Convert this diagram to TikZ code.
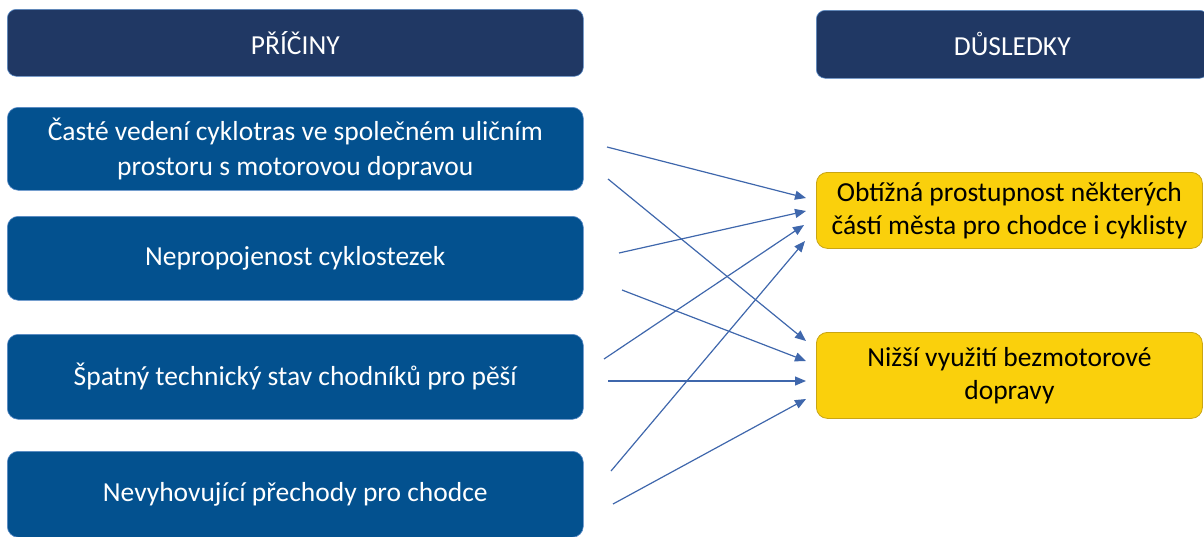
\documentclass[tikz,border=0pt]{standalone}
\usepackage{fontspec}
\setmainfont{Carlito}
\usetikzlibrary{arrows.meta}
\definecolor{navy}{HTML}{203864}
\definecolor{causeblue}{HTML}{03518F}
\definecolor{edgeblue}{HTML}{5B8CC8}
\definecolor{effyellow}{HTML}{FAD00C}
\definecolor{effedge}{HTML}{C9A514}
\definecolor{arrowblue}{HTML}{3F67AC}
\tikzset{
  header/.style={draw=edgeblue, line width=0.6pt, fill=navy, rounded corners=9pt, text=white,
    font=\fontsize{27.5}{33}\selectfont, anchor=north west, inner sep=0pt},
  cause/.style={draw=edgeblue, line width=0.6pt, fill=causeblue, rounded corners=11pt, text=white,
    font=\fontsize{27.5}{35}\selectfont, align=center, anchor=north west, inner sep=0pt,
    minimum width=576pt},
  effect/.style={draw=effedge, line width=0.8pt, fill=effyellow, rounded corners=11pt, text=black,
    font=\fontsize{27.5}{33}\selectfont, align=center, anchor=north west, inner sep=0pt,
    minimum width=386pt},
  link/.style={draw=arrowblue, line width=1.2pt, -{Triangle[length=11pt,width=9pt]}}
}
\begin{document}
\begin{tikzpicture}[x=1pt,y=-1pt]
\useasboundingbox (0,0) rectangle (1204,536);
% headers
\node[header, minimum width=576pt, minimum height=67pt] (hc) at (7,9) {PŘÍČINY};
\node[header, minimum width=392pt, minimum height=68pt] (he) at (816,10) {DŮSLEDKY};
% causes
\node[cause, minimum height=83pt] (c1) at (7,107) {Časté vedení cyklotras ve společném uličním\\prostoru s motorovou dopravou};
\node[cause, minimum height=84pt] (c2) at (7,216) {Nepropojenost cyklostezek};
\node[cause, minimum height=85pt] (c3) at (7,334) {Špatný technický stav chodníků pro pěší};
\node[cause, minimum height=86pt] (c4) at (7,451) {Nevyhovující přechody pro chodce};
% effects
\node[effect, minimum height=76pt] (e1) at (816,172) {Obtížná prostupnost některých\\částí města pro chodce i cyklisty};
\node[effect, minimum height=86pt] (e2) at (816,332) {Nižší využití bezmotorové\\dopravy};
% connector end points
\coordinate (s1) at (607,147);
\coordinate (s2) at (608,179);
\coordinate (s3) at (619,253);
\coordinate (s4) at (622,290);
\coordinate (s5) at (604,359);
\coordinate (s6) at (608,381);
\coordinate (s7) at (611,471);
\coordinate (s8) at (613,504);
\coordinate (t1) at (806,198);
\coordinate (t2) at (806,211);
\coordinate (t3) at (804,225);
\coordinate (t4) at (805,241);
\coordinate (t5) at (806,341);
\coordinate (t6) at (806,361);
\coordinate (t7) at (806,381);
\coordinate (t8) at (806,399);
\draw[link] (s1) -- (t1);
\draw[link] (s2) -- (t5);
\draw[link] (s3) -- (t2);
\draw[link] (s4) -- (t6);
\draw[link] (s5) -- (t3);
\draw[link] (s6) -- (t7);
\draw[link] (s7) -- (t4);
\draw[link] (s8) -- (t8);
\end{tikzpicture}
\end{document}
